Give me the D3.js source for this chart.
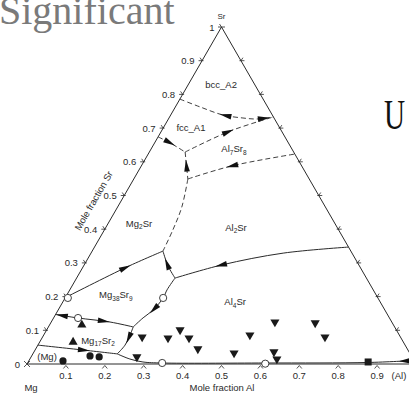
<!DOCTYPE html>
<html><head><meta charset="utf-8">
<script src="https://cdn.jsdelivr.net/npm/d3@7"></script>
<style>body{margin:0;background:#fff;} svg{display:block;}</style>
</head><body>
<svg id="c" width="409" height="394"></svg>
<script>
// ---- data (ternary compositions: [x(Al), x(Sr)]) ----
const axisTicks = [0.1,0.2,0.3,0.4,0.5,0.6,0.7,0.8,0.9];
const alTickLabels = ["0.1","0.2","0.3","0.4","0.5","0.6","0.7","0.8","0.9"];
const srTickLabels = ["0.1","0.2","0.3","0.4","0.5","0.6","0.7","0.8","0.9"];

const bccFcc     = [[0,0.786],[0.063,0.763],[0.134,0.739],[0.19,0.73],[0.228,0.727],[0.267,0.733]];
const fccAl7Sr8  = [[0.092,0.629],[0.176,0.691],[0.267,0.733]];
const fccMg2Sr   = [[0,0.674],[0.04,0.656],[0.092,0.629]];
const mg2SrTop   = [[0.092,0.629],[0.139,0.549]];
const mg2SrAl2Sr = [[0.139,0.549],[0.165,0.466],[0.176,0.398],[0.182,0.335]];
const al7Al2     = [[0.139,0.549],[0.233,0.588],[0.377,0.623]];
const mg38Mg2    = [[0,0.197],[0.113,0.288],[0.182,0.335]];
const mg38Al2    = [[0.182,0.335],[0.217,0.291],[0.253,0.255]];
const al2Al4     = [[0.253,0.255],[0.354,0.294],[0.494,0.329],[0.653,0.347]];
const mg38Al4    = [[0.253,0.255],[0.25,0.22],[0.252,0.196],[0.244,0.16],[0.23,0.137],[0.218,0.11]];
const mg38Mg17   = [[0,0.147],[0.063,0.1365],[0.151,0.1246],[0.218,0.11]];
const mg17Al4    = [[0.218,0.11],[0.222,0.086],[0.224,0.056],[0.217,0.03]];
const mgMg17     = [[0,0.056],[0.123,0.0415],[0.217,0.03]];
const mgAl4      = [[0.217,0.03],[0.257,0.0148],[0.295,0.006],[0.346,0.003],[0.61,0.003],[0.874,0.0045],[0.985,0.01]];

const openCircles  = [[0.007,0.196],[0.063,0.1365],[0.252,0.196],[0.346,0.003],[0.612,0.001]];
const filledCircles= [[0.088,0.009],[0.150,0.024],[0.175,0.021]];
const upTriangles  = [[0.083,0.116],[0.086,0.065]];
const downTriangles= [[0.256,0.080],[0.324,0.077],[0.343,0.101],[0.378,0.077],[0.417,0.0445],[0.272,0.021],
                      [0.575,0.1246],[0.680,0.1217],[0.530,0.086],[0.726,0.080],[0.516,0.0326],[0.617,0.0356],[0.635,0.0148]];
const squares      = [[0.874,0.006]];

const phaseNames = [
  [["bcc_A2",0]],
  [["fcc_A1",0]],
  [["Al",0],["7",1],["Sr",0],["8",1]],
  [["Mg",0],["2",1],["Sr",0]],
  [["Al",0],["2",1],["Sr",0]],
  [["Mg",0],["38",1],["Sr",0],["9",1]],
  [["Mg",0],["17",1],["Sr",0],["2",1]],
  [["(Mg)",0]],
  [["Al",0],["4",1],["Sr",0]],
];
const phaseAt = [[0.085,0.828],[0.070,0.703],[0.213,0.638],[0.079,0.418],[0.334,0.4065],
                 [0.126,0.205],[0.147,0.071],[0.041,0.021],[0.443,0.184]];

// ---- scales ----
const xs = d3.scaleLinear().domain([0,1]).range([27,416]);
const ys = d3.scaleLinear().domain([0,1]).range([364,27]);
const P = (d)=>[xs(d[0]+d[1]/2), ys(d[1])];

const svg = d3.select("#c");
const ink = "#2a2a2a";
const font = "'Liberation Sans', Arial, sans-serif";

// slide text
svg.append("text").attr("x",-1).attr("y",24).attr("font-family","'Liberation Serif','Times New Roman',serif")
  .attr("font-size",40).attr("fill","#7a7a7a").text("Significant");
svg.append("text").attr("transform","translate(384,129) scale(0.68,1)")
  .attr("font-family","'Liberation Serif','Times New Roman',serif")
  .attr("font-size",43).attr("fill","#111").text("U");

const g = svg.append("g");

// triangle
const corners = [[0,0],[1,0],[0,1]];
g.append("path").attr("d", d3.line()(corners.map(P)) + "Z")
  .attr("fill","none").attr("stroke",ink).attr("stroke-width",1);

const fs = 9.5;
// ticks
axisTicks.forEach((t,i)=>{
  const b = P([t,0]);
  g.append("path").attr("d",`M${b[0]-2.5},${b[1]+4.5}L${b[0]},${b[1]+1.5}L${b[0]+2.5},${b[1]+4.5}`)
    .attr("fill","none").attr("stroke",ink).attr("stroke-width",0.8);
  g.append("text").attr("x",b[0]).attr("y",b[1]+15).attr("text-anchor","middle")
    .attr("font-family",font).attr("font-size",fs).attr("fill",ink).text(alTickLabels[i]);
  const l = P([0,t]);
  g.append("path").attr("d",`M${l[0]-3.5},${l[1]}L${l[0]+1.5},${l[1]}M${l[0]-2},${l[1]-3}L${l[0]},${l[1]}`)
    .attr("fill","none").attr("stroke",ink).attr("stroke-width",0.8);
  g.append("text").attr("x",l[0]-7.5).attr("y",l[1]+3.5).attr("text-anchor","end")
    .attr("font-family",font).attr("font-size",fs).attr("fill",ink).text(srTickLabels[i]);
  const r = P([1-t,t]);
  g.append("path").attr("d",`M${r[0]-1.5},${r[1]}L${r[0]+3.5},${r[1]}M${r[0]+2},${r[1]-3}L${r[0]},${r[1]}`)
    .attr("fill","none").attr("stroke",ink).attr("stroke-width",0.8);
});
// corner marks
const mg = P([0,0]), sr = P([0,1]);
g.append("path").attr("d",`M${mg[0]-3},${mg[1]-3}L${mg[0]+3},${mg[1]+3}M${mg[0]-3},${mg[1]+3}L${mg[0]+3},${mg[1]-3}`)
  .attr("stroke",ink).attr("stroke-width",0.8);
g.append("path").attr("d",`M${sr[0]-3.5},${sr[1]}L${sr[0]+3.5},${sr[1]}M${sr[0]-2},${sr[1]-3}L${sr[0]},${sr[1]}`)
  .attr("stroke",ink).attr("stroke-width",0.8);
g.append("text").attr("x",mg[0]-7).attr("y",mg[1]+3.5).attr("text-anchor","end")
  .attr("font-family",font).attr("font-size",fs).attr("fill",ink).text("0");
g.append("text").attr("x",sr[0]-7).attr("y",sr[1]+3.5).attr("text-anchor","end")
  .attr("font-family",font).attr("font-size",fs).attr("fill",ink).text("1");
g.append("text").attr("x",sr[0]).attr("y",sr[1]-8).attr("text-anchor","middle")
  .attr("font-family",font).attr("font-size",8).attr("fill",ink).text("Sr");
g.append("text").attr("x",mg[0]+4).attr("y",391).attr("text-anchor","middle")
  .attr("font-family",font).attr("font-size",fs).attr("fill",ink).text("Mg");
g.append("text").attr("x",222).attr("y",391).attr("text-anchor","middle")
  .attr("font-family",font).attr("font-size",fs).attr("fill",ink).text("Mole fraction Al");
g.append("text").attr("x",399).attr("y",379).attr("text-anchor","middle")
  .attr("font-family",font).attr("font-size",fs).attr("fill",ink).text("(Al)");
const sl = P([0,0.45]);
g.append("text").attr("transform",`translate(${sl[0]-18},${sl[1]-10}) rotate(-60)`).attr("text-anchor","middle")
  .attr("font-family",font).attr("font-size",fs).attr("fill",ink).text("Mole fraction Sr");

// lines
const lineGen = d3.line().x(d=>P(d)[0]).y(d=>P(d)[1]).curve(d3.curveCatmullRom.alpha(0.5));
const lines = [
  {d:bccFcc, dash:true, arrows:[[0.5,-1],[0.9,1]]},
  {d:fccAl7Sr8, dash:true, arrows:[[0.5,1]]},
  {d:fccMg2Sr, dash:true, arrows:[[0.42,1]]},
  {d:mg2SrTop, dash:true, arrows:[[0.5,-1]]},
  {d:mg2SrAl2Sr, dash:true, arrows:[]},
  {d:al7Al2, dash:true, arrows:[[0.42,-1]]},
  {d:mg38Mg2, dash:false, arrows:[[0.62,1]]},
  {d:mg38Al2, dash:false, arrows:[[0.45,-1]]},
  {d:al2Al4, dash:false, arrows:[[0.27,-1]]},
  {d:mg38Al4, dash:false, arrows:[[0.58,1]]},
  {d:mg38Mg17, dash:false, arrows:[[0.08,-1],[0.62,1]]},
  {d:mg17Al4, dash:false, arrows:[[0.38,1]]},
  {d:mgMg17, dash:false, arrows:[[0.58,1]]},
  {d:mgAl4, dash:false, arrows:[[0.975,-1]]},
];
lines.forEach(L=>{
  const p = g.append("path").attr("d",lineGen(L.d)).attr("fill","none")
    .attr("stroke",ink).attr("stroke-width",L.dash?0.9:1)
    .attr("stroke-dasharray",L.dash?"5,3":null);
  const node = p.node(), len = node.getTotalLength();
  L.arrows.forEach(([f,dir])=>{
    const c = node.getPointAtLength(f*len);
    const a = node.getPointAtLength(Math.max(0,f*len-2)), b = node.getPointAtLength(Math.min(len,f*len+2));
    let dx=b.x-a.x, dy=b.y-a.y; const n=Math.hypot(dx,dy); dx=dx/n*dir; dy=dy/n*dir;
    const hl=6, hw=2.8;
    const tip=[c.x+dx*hl,c.y+dy*hl], base=[c.x-dx*hl,c.y-dy*hl];
    g.append("path").attr("d",`M${tip[0]},${tip[1]}L${base[0]-dy*hw},${base[1]+dx*hw}L${base[0]+dy*hw},${base[1]-dx*hw}Z`)
      .attr("fill","#111");
  });
});

// markers
g.selectAll(".oc").data(openCircles).join("circle").attr("cx",d=>P(d)[0]).attr("cy",d=>P(d)[1])
  .attr("r",3.6).attr("fill","#fff").attr("stroke",ink).attr("stroke-width",0.9);
g.selectAll(".fc").data(filledCircles).join("circle").attr("cx",d=>P(d)[0]).attr("cy",d=>P(d)[1])
  .attr("r",3.6).attr("fill","#1a1a1a");
const tri = d3.symbol().type(d3.symbolTriangle).size(36);
g.selectAll(".ut").data(upTriangles).join("path").attr("d",tri)
  .attr("transform",d=>`translate(${P(d)[0]},${P(d)[1]})`).attr("fill","#1a1a1a");
g.selectAll(".dt").data(downTriangles).join("path").attr("d",tri)
  .attr("transform",d=>`translate(${P(d)[0]},${P(d)[1]}) rotate(180)`).attr("fill","#1a1a1a");
g.selectAll(".sq").data(squares).join("rect").attr("x",d=>P(d)[0]-3.5).attr("y",d=>P(d)[1]-3.5)
  .attr("width",7).attr("height",7).attr("fill","#1a1a1a");

// phase labels
phaseNames.forEach((parts,i)=>{
  const p = P(phaseAt[i]);
  const t = g.append("text").attr("x",p[0]).attr("y",p[1]+3.5).attr("text-anchor","middle")
    .attr("font-family",font).attr("font-size",fs).attr("fill",ink);
  parts.forEach(([s,sub],j)=>{
    const ts = t.append("tspan").text(s);
    if(sub) ts.attr("font-size",6.5).attr("dy",2.5);
    else if(j>0) ts.attr("dy",-2.5);
  });
});
</script>
</body></html>
